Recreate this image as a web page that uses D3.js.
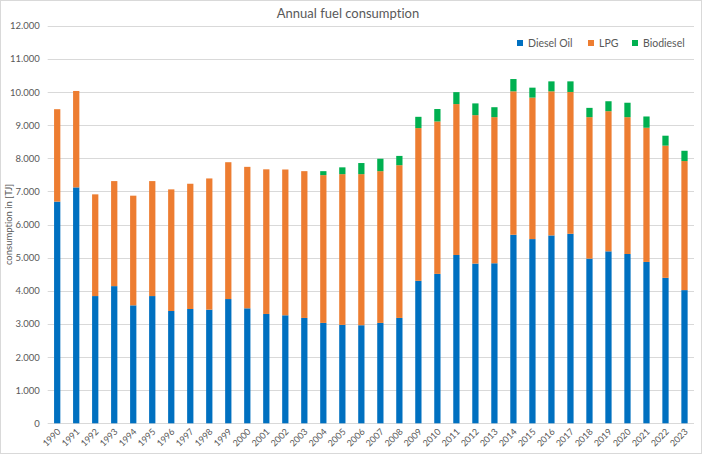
<!DOCTYPE html>
<html lang="en">
<head>
    <meta charset="UTF-8">
    <title>Annual fuel consumption</title>
    <script src="https://d3js.org/d3.v7.min.js"></script>
    <style>
        body {
            margin: 0;
            background: #fff;
        }

        svg text {
            font-family: Lato, "Open Sans", sans-serif;
            font-variant-ligatures: none;
            font-feature-settings: "liga" 0;
            fill: #595959;
        }
    </style>
</head>
<body>

<div id="chart"></div>

<script>
    const years = ["1990", "1991", "1992", "1993", "1994", "1995", "1996", "1997", "1998", "1999",
        "2000", "2001", "2002", "2003", "2004", "2005", "2006", "2007", "2008", "2009",
        "2010", "2011", "2012", "2013", "2014", "2015", "2016", "2017", "2018", "2019",
        "2020", "2021", "2022", "2023"];

    const dieselOil = [6690, 7120, 3840, 4140, 3560, 3840, 3390, 3450, 3430, 3750,
        3470, 3300, 3260, 3180, 3030, 2970, 2960, 3030, 3180, 4300,
        4510, 5080, 4820, 4830, 5690, 5560, 5670, 5720, 4970, 5190,
        5110, 4870, 4390, 4020];

    const lpg = [2790, 2910, 3070, 3170, 3310, 3470, 3670, 3780, 3960, 4130,
        4270, 4365, 4400, 4430, 4460, 4550, 4560, 4580, 4610, 4610,
        4600, 4555, 4480, 4410, 4330, 4270, 4350, 4280, 4270, 4230,
        4130, 4050, 3990, 3895];

    const biodiesel = [0, 0, 0, 0, 0, 0, 0, 0, 0, 0,
        0, 0, 0, 0, 120, 205, 335, 375, 280, 340,
        375, 360, 355, 300, 370, 300, 300, 320, 280, 300,
        435, 340, 300, 310];

    const seriesNames = ["Diesel Oil", "LPG", "Biodiesel"];
    const seriesColors = ["#0070C0", "#ED7D31", "#00B050"];
    const yTicks = [0, 1000, 2000, 3000, 4000, 5000, 6000, 7000, 8000, 9000, 10000, 11000, 12000];

    const width = 702;
    const height = 454;
    const margin = {top: 25.7, right: 8, bottom: 30.7, left: 47.7};

    // rows for the stack
    const rows = years.map((y, i) => ({
        year: y,
        "Diesel Oil": dieselOil[i],
        "LPG": lpg[i],
        "Biodiesel": biodiesel[i]
    }));

    const stacked = d3.stack().keys(seriesNames)(rows);

    const svg = d3.select("#chart")
        .append("svg")
        .attr("width", width)
        .attr("height", height);

    svg.append("rect")
        .attr("x", 0.5)
        .attr("y", 0.5)
        .attr("width", width - 1)
        .attr("height", height - 1)
        .attr("fill", "#fff")
        .attr("stroke", "#d9d9d9");

    const x = d3.scaleBand()
        .domain(years)
        .range([margin.left, width - margin.right])
        .paddingInner(0.67)
        .paddingOuter(0.335);

    const y = d3.scaleLinear()
        .domain([0, 12000])
        .range([height - margin.bottom, margin.top]);

    const de = d3.formatLocale({decimal: ",", thousands: ".", grouping: [3], currency: ["", "€"]});
    const fmt = de.format(",");

    // gridlines
    svg.append("g")
        .selectAll("line")
        .data(yTicks)
        .join("line")
        .attr("x1", margin.left)
        .attr("x2", width - margin.right)
        .attr("y1", d => Math.round(y(d)) + 0.5)
        .attr("y2", d => Math.round(y(d)) + 0.5)
        .attr("stroke", "#d9d9d9")
        .attr("stroke-width", 1);

    // y axis labels
    const yAxis = svg.append("g")
        .attr("transform", `translate(${margin.left - 8},0)`)
        .call(d3.axisLeft(y).tickValues(yTicks).tickFormat(fmt).tickSize(0).tickPadding(0));
    yAxis.select(".domain").remove();
    yAxis.selectAll("text")
        .attr("font-size", 9.5)
        .style("font-family", "Lato, sans-serif");

    // bars
    svg.append("g")
        .selectAll("g")
        .data(stacked)
        .join("g")
        .attr("fill", (d, i) => seriesColors[i])
        .selectAll("rect")
        .data(d => d)
        .join("rect")
        .attr("x", d => x(d.data.year))
        .attr("y", d => y(d[1]))
        .attr("width", x.bandwidth())
        .attr("height", d => y(d[0]) - y(d[1]));

    // x axis labels
    const xAxis = svg.append("g")
        .attr("transform", `translate(0,${height - margin.bottom})`)
        .call(d3.axisBottom(x).tickSize(0).tickPadding(0));
    xAxis.select(".domain").remove();
    xAxis.selectAll("text")
        .attr("font-size", 9)
        .style("font-family", "Lato, sans-serif")
        .attr("text-anchor", "end")
        .attr("dy", 0)
        .attr("transform", "translate(4,9) rotate(-45)");

    // title
    svg.append("text")
        .attr("x", 348)
        .attr("y", 17.5)
        .attr("text-anchor", "middle")
        .attr("font-size", 13)
        .text("Annual fuel consumption");

    // y axis title
    svg.append("text")
        .attr("transform", `translate(12,${(margin.top + height - margin.bottom) / 2}) rotate(-90)`)
        .attr("text-anchor", "middle")
        .attr("font-size", 9.5)
        .text("consumption in [TJ]");

    // legend
    const legendX = [517, 588, 632];
    const legend = svg.append("g")
        .selectAll("g")
        .data(seriesNames)
        .join("g")
        .attr("transform", (d, i) => `translate(${legendX[i]},40)`);
    legend.append("rect")
        .attr("width", 6)
        .attr("height", 6)
        .attr("fill", (d, i) => seriesColors[i]);
    legend.append("text")
        .attr("x", 11)
        .attr("y", 6.5)
        .attr("font-size", 10.5)
        .text(d => d);
</script>

</body>
</html>
